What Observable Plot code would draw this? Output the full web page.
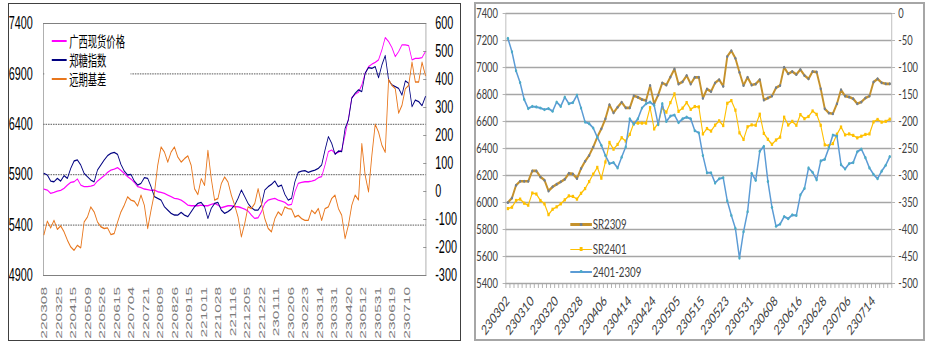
<!DOCTYPE html>
<html><head><meta charset="utf-8">
<script src="https://cdn.jsdelivr.net/npm/d3@7"></script>
<script src="https://cdn.jsdelivr.net/npm/@observablehq/plot@0.6"></script>
<style>
html,body{margin:0;padding:0;background:#fff;}
body{width:931px;height:351px;position:relative;overflow:hidden;}
.panel{position:absolute;box-sizing:border-box;background:#fff;overflow:hidden;}
#p1{left:8px;top:3px;width:453px;height:338px;border:1px solid #404040;}
#p2{left:474px;top:2px;width:451px;height:339px;border:2px solid #a6a6a6;}
.inner{position:absolute;left:0;top:0;transform-origin:0 0;}
.inner svg{position:absolute;left:0;top:0;}
.abs{position:absolute;}
.t1{font-family:"Noto Sans CJK SC",sans-serif;font-size:15px;line-height:18px;color:#000;white-space:nowrap;}
.t2{font-family:Lato,sans-serif;font-size:13.5px;line-height:16px;color:#404040;white-space:nowrap;}
</style></head>
<body>
<div id="p1" class="panel"><div id="in1" class="inner"></div></div>
<div id="p2" class="panel"><div id="in2" class="inner"></div></div>
<script>
// ---------- Left chart: 广西现货价格 / 郑糖指数 (left axis), 远期基差 (right axis) ----------
// values read every 3rd trading day from 220308
const gx = [5758,5748,5715,5725,5738,5744,5764,5797,5824,5830,
5857,5797,5781,5781,5787,5797,5837,5864,5890,5923,
5946,5956,5970,5943,5913,5880,5857,5824,5781,5771,
5758,5751,5744,5748,5731,5725,5715,5698,5682,5665,
5660,5648,5625,5599,5592,5592,5592,5599,5592,5592,
5605,5615,5599,5572,5582,5592,5592,5582,5582,5572,
5559,5539,5499,5466,5473,5533,5615,5648,5658,5665,
5648,5638,5625,5599,5605,5731,5814,5824,5830,5830,
5837,5847,5870,5880,5996,6128,6145,6112,6122,6145,
6294,6459,6665,6698,6718,6790,6906,6972,6996,7015,
7039,7138,7260,7221,7161,7072,7121,7188,7188,7181,
7039,7055,7055,7062,7121];
const zt = [5913,5897,5837,5830,5864,5837,5890,5864,5963,6036,
6046,5996,5913,5880,5847,5830,5946,5996,6046,6089,
6112,6122,6102,6003,5936,5897,5903,5837,5797,5814,
5870,5864,5781,5682,5665,5648,5582,5549,5516,5500,
5499,5526,5499,5483,5533,5582,5615,5625,5582,5466,
5566,5615,5625,5549,5516,5533,5559,5599,5665,5748,
5682,5615,5572,5549,5549,5599,5748,5781,5804,5837,
5781,5797,5705,5648,5665,5830,5923,5936,5940,5923,
5936,5946,5963,5996,6145,6277,6211,6102,6135,6128,
6360,6443,6658,6708,6741,6724,6906,6963,6956,6972,
6863,6989,7082,6840,6790,6774,6757,6691,6830,6807,
6575,6641,6625,6585,6675];
const jc = [-154,-106,-130,-103,-135,-123,-144,-174,-198,-210,
-192,-201,-109,-91,-55,-73,-109,-126,-132,-130,
-154,-150,-109,-73,-49,-19,-31,-35,-52,-13,
-49,-132,-67,-7,94,159,141,105,141,159,
123,105,117,127,93,10,-11,46,22,147,
46,-31,-25,28,52,34,-13,-49,-91,-162,
-114,-55,-61,-43,10,-43,-97,-132,-144,-97,
-73,-85,-55,-61,-63,-91,-85,-97,-103,-103,
-67,-79,-61,-103,-61,-55,-25,-13,-61,-85,
-168,-120,-49,-13,-30,171,58,-1,129,240,
212,165,140,400,379,367,280,308,367,379,
462,391,391,462,414];
const leftXLabels = ["220308","220325","220415","220509","220526","220615","220704","220721","220809","220826","220915","221011","221028","221116","221205","221222","230111","230206","230223","230314","230331","230420","230512","230531","230619","230710"];
const leftYTicks = [4900,5400,5900,6400,6900,7400];
const rightYTicks1 = [-300,-200,-100,0,100,200,300,400,500,600];
const legend1 = [["广西现货价格","#ff00ff"],["郑糖指数","#000080"],["远期基差","#e8761c"]];

// ---------- Right chart: SR2309 / SR2401 (left axis), 2401-2309 (right axis) ----------
const sr2309 = [6000,6034,6128,6157,6157,6157,6234,6234,6189,6165,
6086,6116,6135,6153,6172,6216,6212,6177,6251,6305,
6349,6411,6485,6546,6620,6725,6664,6706,6743,6701,
6701,6790,6780,6763,6755,6866,6731,6797,6886,6871,
6930,6989,6878,6895,6940,6878,6927,6927,6772,6841,
6822,6886,6910,6861,7082,7124,7068,6964,6866,6927,
6871,6878,6910,6760,6774,6788,6850,6867,7002,6953,
6970,6948,6985,6941,6916,6970,6966,6843,6695,6663,
6658,6732,6835,6788,6781,6769,6732,6744,6774,6788,
6892,6916,6887,6879,6879];
const sr2401 = [5955,5965,6015,6025,5995,5980,6070,6063,6015,5990,
5910,5950,5968,5990,6020,6049,6045,6025,6068,6103,
6155,6210,6260,6180,6300,6445,6395,6430,6480,6455,
6505,6588,6588,6588,6588,6703,6545,6588,6700,6669,
6740,6805,6675,6699,6740,6690,6711,6708,6508,6548,
6529,6573,6605,6570,6735,6755,6684,6516,6467,6561,
6575,6572,6654,6512,6468,6431,6463,6484,6632,6574,
6601,6572,6651,6621,6637,6678,6653,6572,6427,6421,
6436,6506,6559,6501,6508,6497,6479,6491,6504,6508,
6597,6615,6595,6601,6617];
const spread = [-46,-71,-106,-128,-159,-176,-172,-173,-175,-178,
-176,-181,-164,-172,-155,-167,-165,-151,-175,-201,
-204,-212,-229,-244,-263,-278,-276,-286,-266,-247,
-195,-205,-195,-175,-167,-164,-170,-206,-167,-200,
-190,-188,-202,-195,-192,-195,-217,-221,-263,-295,
-295,-314,-306,-304,-347,-374,-398,-453,-404,-367,
-296,-309,-255,-246,-311,-359,-394,-390,-376,-380,
-373,-374,-336,-324,-286,-294,-308,-273,-270,-249,
-225,-227,-280,-288,-278,-276,-256,-251,-267,-286,
-298,-306,-292,-281,-265];
const rightXLabels = ["230302","230310","230320","230328","230406","230414","230424","230505","230515","230523","230531","230608","230616","230628","230706","230714"];
const rightYTicks = [5400,5600,5800,6000,6200,6400,6600,6800,7000,7200,7400];
const rightYTicks2 = [-500,-450,-400,-350,-300,-250,-200,-150,-100,-50,0];
const legend2 = [["SR2309","#c5912b","#6e7f95",2.8,"circle"],["SR2401","#ffc000","#ffc000",1.5,"square"],["2401-2309","#5b9bd5","#4bacc6",2.4,"circle"]];

// ---------- build left ----------
const S1 = 0.62, W1 = 727, H1 = 336;
const m1 = {marginLeft: 55, marginRight: 55, marginTop: 19, marginBottom: 65};
const rows1 = vals => vals.map((v, k) => ({i: k * 3, v}));
const xs1 = {type: "linear", domain: [-0.5, 342.5], axis: null};
const st1 = {fontFamily: "'Liberation Sans', Arial, sans-serif", background: "transparent", color: "#000", overflow: "visible"};
const in1 = document.getElementById("in1");
in1.style.width = W1 + "px"; in1.style.height = H1 + "px";
in1.style.transform = `scaleX(${S1})`;

const base1 = Plot.plot({
  width: W1, height: H1, ...m1, style: st1,
  x: xs1, y: {domain: [4900, 7400], axis: null},
  marks: [
    Plot.gridY(leftYTicks.slice(1, -1), {stroke: "#333", strokeOpacity: 1, strokeDasharray: "2.5,1.5"}),
    Plot.frame({stroke: "#808080"}),
    Plot.axisY({ticks: leftYTicks, tickSize: 0, tickPadding: 17, fontSize: 17.5, tickFormat: d => String(d), label: null}),
    Plot.axisX({ticks: leftXLabels.map((_, j) => j * 13), tickSize: 0, tickPadding: 11.5, tickRotate: -90, fontSize: 15.5, color: "#7a7a7a", tickFormat: i => leftXLabels[Math.round(i / 13)], label: null}),
    Plot.lineY(rows1(gx), {x: "i", y: "v", stroke: "#ff00ff", strokeWidth: 1.3}),
    Plot.lineY(rows1(zt), {x: "i", y: "v", stroke: "#000080", strokeWidth: 1.3})
  ]
});
const over1 = Plot.plot({
  width: W1, height: H1, ...m1, style: st1,
  x: xs1, y: {domain: [-300, 600], axis: null},
  marks: [
    Plot.axisY({anchor: "right", ticks: rightYTicks1, tickSize: -5, tickPadding: 20, stroke: "#808080", fontSize: 17.5, tickFormat: d => String(d), label: null}),
    Plot.lineY(rows1(jc), {x: "i", y: "v", stroke: "#e8761c", strokeWidth: 1.4})
  ]
});
in1.appendChild(base1);
in1.appendChild(over1);
// legend 1 (white box hides the grid line behind it)
{
  const box = document.createElement("div");
  box.className = "abs";
  Object.assign(box.style, {left: "57px", top: "24px", width: "139px", height: "62px", background: "#fff"});
  in1.appendChild(box);
  const yc = [36.7, 55.7, 75];
  legend1.forEach(([name, col], j) => {
    const sw = document.createElement("div");
    sw.className = "abs";
    Object.assign(sw.style, {left: "69px", top: (yc[j] - 1) + "px", width: "24px", height: "2px", background: col});
    in1.appendChild(sw);
    const tx = document.createElement("div");
    tx.className = "abs t1";
    tx.style.left = "97px"; tx.style.top = (yc[j] - 9) + "px";
    tx.textContent = name;
    in1.appendChild(tx);
  });
}

// ---------- build right ----------
const S2 = 0.72, W2 = 621, H2 = 335;
const m2 = {marginLeft: 41, marginRight: 44, marginTop: 9, marginBottom: 56};
const rows2 = vals => vals.map((v, i) => ({i, v}));
const xs2 = {type: "linear", domain: [-0.5, 94.5], axis: null};
const st2 = {fontFamily: "Lato, sans-serif", background: "transparent", color: "#404040", overflow: "visible"};
const in2 = document.getElementById("in2");
in2.style.width = W2 + "px"; in2.style.height = H2 + "px";
in2.style.transform = `scaleX(${S2})`;
const minor2 = sr2309.map((_, i) => i - 0.5).concat([sr2309.length - 0.5]);

const base2 = Plot.plot({
  width: W2, height: H2, ...m2, style: st2,
  x: xs2, y: {domain: [5400, 7400], axis: null},
  marks: [
    Plot.gridY(rightYTicks, {stroke: "#a6a6a6", strokeOpacity: 1, strokeWidth: 1.5}),
    Plot.frame({stroke: "#a6a6a6"}),
    Plot.axisY({ticks: rightYTicks, tickSize: 4, tickPadding: 7, stroke: "#a6a6a6", color: "#404040", fontSize: 13, tickFormat: d => String(d), label: null}),
    Plot.axisX({ticks: minor2, tickSize: 5, stroke: "#a6a6a6", tickFormat: () => "", label: null, ariaLabel: "minor-ticks"}),
    Plot.axisX({ticks: rightXLabels.map((_, j) => j * 6), tickSize: 0, tickPadding: 15, tickRotate: -45, fontSize: 14, color: "#404040", tickFormat: i => rightXLabels[Math.round(i / 6)], label: null}),
    Plot.lineY(rows2(sr2309), {x: "i", y: "v", stroke: "#c5912b", strokeWidth: 2.6}),
    Plot.dot(rows2(sr2309), {x: "i", y: "v", r: 1.5, fill: "#6e7f95", stroke: null}),
    Plot.lineY(rows2(sr2401), {x: "i", y: "v", stroke: "#ffc000", strokeWidth: 1.5}),
    Plot.dot(rows2(sr2401), {x: "i", y: "v", r: 1.8, symbol: "square", fill: "#ffc000", stroke: null})
  ]
});
// drop the empty label texts of the minor-tick axis
base2.querySelectorAll("text").forEach(t => { if (!t.textContent.trim()) t.remove(); });
const over2 = Plot.plot({
  width: W2, height: H2, ...m2, style: st2,
  x: xs2, y: {domain: [-500, 0], axis: null},
  marks: [
    Plot.axisY({anchor: "right", ticks: rightYTicks2, tickSize: 4, tickPadding: 5, stroke: "#a6a6a6", color: "#404040", fontSize: 13, tickFormat: d => String(d), label: null}),
    Plot.lineY(rows2(spread), {x: "i", y: "v", stroke: "#5b9bd5", strokeWidth: 2}),
    Plot.dot(rows2(spread), {x: "i", y: "v", r: 1.6, fill: "#4bacc6", stroke: null})
  ]
});
in2.appendChild(base2);
in2.appendChild(over2);
{
  const yc = [220.3, 245.3, 267.7];
  legend2.forEach(([name, col, mk, lw, shape], j) => {
    const sw = document.createElement("div");
    sw.className = "abs";
    Object.assign(sw.style, {left: "131px", top: (yc[j] - lw / 2) + "px", width: "30px", height: lw + "px", background: col});
    in2.appendChild(sw);
    const m = document.createElement("div");
    m.className = "abs";
    const sz = shape === "square" ? 4 : 3.6;
    Object.assign(m.style, {left: (146 - sz / 2) + "px", top: (yc[j] - sz / 2) + "px", width: sz + "px", height: sz + "px", background: mk, borderRadius: shape === "square" ? "0" : "50%"});
    in2.appendChild(m);
    const tx = document.createElement("div");
    tx.className = "abs t2";
    tx.style.left = "162px"; tx.style.top = (yc[j] - 8) + "px";
    tx.textContent = name;
    in2.appendChild(tx);
  });
}
</script>
</body></html>
